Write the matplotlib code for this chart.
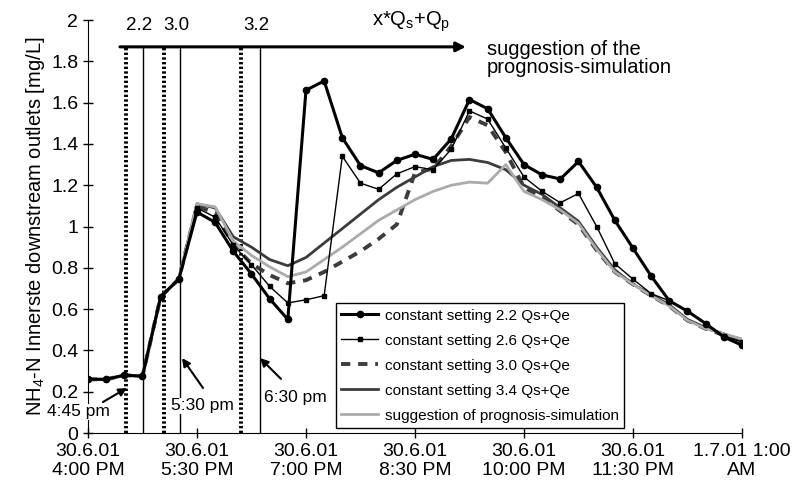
import matplotlib
matplotlib.use("Agg")
import matplotlib.pyplot as plt
import numpy as np

plt.rcParams['font.family'] = ['Liberation Sans', 'DejaVu Sans']

# measurements every 15 minutes starting 30.6.01 4:00 PM
hours = np.arange(37) * 0.25

s22 = [0.26, 0.26, 0.28, 0.275, 0.66, 0.745, 1.07, 1.02, 0.88, 0.77, 0.65, 0.55,
       1.66, 1.705, 1.43, 1.295, 1.26, 1.32, 1.35, 1.325, 1.425, 1.615, 1.57, 1.43,
       1.30, 1.25, 1.23, 1.315, 1.19, 1.03, 0.895, 0.76, 0.64, 0.59, 0.53, 0.465, 0.425]
s26 = [0.26, 0.26, 0.28, 0.275, 0.66, 0.745, 1.09, 1.045, 0.91, 0.815, 0.71, 0.63,
       0.645, 0.665, 1.34, 1.21, 1.18, 1.255, 1.29, 1.275, 1.375, 1.56, 1.52, 1.38,
       1.24, 1.17, 1.115, 1.16, 1.0, 0.82, 0.745, 0.675, 0.64, 0.59, 0.53, 0.47, 0.44]
s30 = [0.26, 0.26, 0.28, 0.275, 0.66, 0.745, 1.10, 1.065, 0.91, 0.82, 0.765, 0.725,
       0.74, 0.78, 0.83, 0.88, 0.94, 1.01, 1.26, 1.28, 1.39, 1.53, 1.49, 1.36,
       1.19, 1.14, 1.075, 1.01, 0.885, 0.78, 0.72, 0.665, 0.615, 0.545, 0.505, 0.475, 0.45]
s34 = [0.26, 0.26, 0.28, 0.275, 0.66, 0.745, 1.11, 1.09, 0.95, 0.90, 0.84, 0.81,
       0.85, 0.92, 0.99, 1.06, 1.13, 1.19, 1.24, 1.29, 1.32, 1.325, 1.31, 1.275,
       1.20, 1.155, 1.09, 1.025, 0.90, 0.79, 0.72, 0.67, 0.62, 0.55, 0.51, 0.48, 0.45]
sprog = [0.26, 0.26, 0.28, 0.275, 0.66, 0.745, 1.11, 1.095, 0.93, 0.86, 0.805, 0.757,
         0.78, 0.84, 0.90, 0.965, 1.03, 1.08, 1.13, 1.17, 1.20, 1.215, 1.21, 1.30,
         1.17, 1.13, 1.08, 1.015, 0.89, 0.78, 0.72, 0.665, 0.615, 0.545, 0.505, 0.48, 0.455]

xticks = [0, 1.5, 3, 4.5, 6, 7.5, 9]
xlabels = ["30.6.01\n4:00 PM", "30.6.01\n5:30 PM", "30.6.01\n7:00 PM", "30.6.01\n8:30 PM",
           "30.6.01\n10:00 PM", "30.6.01\n11:30 PM", "1.7.01 1:00\nAM"]

# switching times of the prognosis suggestion (hours after 4:00 PM)
dotted_x = [0.53, 1.05, 2.105]
solid_x = [0.76, 1.27, 2.37]
factor_labels = ["2.2", "3.0", "3.2"]

fig = plt.figure(figsize=(7.94, 4.93), dpi=100)
ax = fig.add_axes([0.1108, 0.1217, 0.8237, 0.8377])

ax.plot(hours, s34, color="#3c3c3c", lw=2, label="constant setting 3.4 Qs+Qe", zorder=3)
ax.plot(hours, s30, color="#3c3c3c", lw=2.8, ls=(0, (2.4, 2.0)), label="constant setting 3.0 Qs+Qe", zorder=3)
ax.plot(hours, sprog, color="#ababab", lw=2, label="suggestion of prognosis-simulation", zorder=4)
ax.plot(hours, s26, color="black", lw=1, marker="s", ms=2.3, label="constant setting 2.6 Qs+Qe", zorder=5)
ax.plot(hours, s22, color="black", lw=2.2, marker="o", ms=4.5, label="constant setting 2.2 Qs+Qe", zorder=6)

for x in dotted_x:
    ax.plot([x, x], [0, 1.87], color="black", lw=2.8, ls=(0, (0.6, 0.6)), zorder=2)
for x in solid_x:
    ax.plot([x, x], [0, 1.87], color="black", lw=1, zorder=2)

ax.annotate("", xy=(5.2, 1.87), xytext=(0.44, 1.87),
            arrowprops=dict(arrowstyle="-|>", color="black", lw=2.2, mutation_scale=14, shrinkA=0, shrinkB=0))
for x, t in zip(solid_x, factor_labels):
    ax.text(x - 0.05, 1.975, t, ha="center", va="center", fontsize=13.5)
ax.text(4.45, 1.99, "x*Q$_\\mathregular{s}$+Q$_\\mathregular{p}$", ha="center", va="center", fontsize=14.5)
ax.text(5.49, 1.815, "suggestion of the\nprognosis-simulation", ha="left", va="center",
        fontsize=14.5, linespacing=0.95)

arrow = dict(arrowstyle="-|>", color="black", lw=1.5, mutation_scale=12, shrinkA=0, shrinkB=0)
ax.annotate("", xy=(0.537, 0.218), xytext=(0.206, 0.15), arrowprops=arrow, annotation_clip=False)
ax.annotate("", xy=(1.294, 0.363), xytext=(1.583, 0.218), arrowprops=arrow)
ax.annotate("", xy=(2.367, 0.363), xytext=(2.656, 0.262), arrowprops=arrow)
ax.text(-0.13, 0.102, "4:45 pm", ha="center", va="center", fontsize=12.5, clip_on=False,
        bbox=dict(facecolor="white", edgecolor="none", pad=0.3), zorder=7)
ax.text(1.57, 0.131, "5:30 pm", ha="center", va="center", fontsize=12.5,
        bbox=dict(facecolor="white", edgecolor="none", pad=0.5))
ax.text(2.85, 0.174, "6:30 pm", ha="center", va="center", fontsize=12.5)

ax.set_xlim(0, 9)
ax.set_ylim(0, 2)
ax.set_xticks(xticks)
ax.set_xticklabels(xlabels, fontsize=14)
ax.set_yticks(np.arange(0, 2.01, 0.2))
ax.set_yticklabels(["%g" % round(v, 1) for v in np.arange(0, 2.01, 0.2)], fontsize=14)
ax.tick_params(direction="inout", length=7, width=1)
ax.spines["top"].set_visible(False)
ax.spines["right"].set_visible(False)
ax.set_ylabel("NH$_\\mathregular{4}$-N Innerste downstream outlets [mg/L]", fontsize=14.5, labelpad=3)

handles, labels = ax.get_legend_handles_labels()
order = [4, 3, 1, 0, 2]
leg = ax.legend([handles[i] for i in order], [labels[i] for i in order],
                loc="lower left", bbox_to_anchor=(0.379, 0.012), fontsize=11,
                frameon=True, fancybox=False, edgecolor="black", framealpha=1,
                borderaxespad=0, handlelength=2.4, handletextpad=0.45,
                labelspacing=0.72, borderpad=0.35)
leg.get_frame().set_linewidth(1)
leg.set_zorder(10)

fig.savefig("out.png", dpi=100)
